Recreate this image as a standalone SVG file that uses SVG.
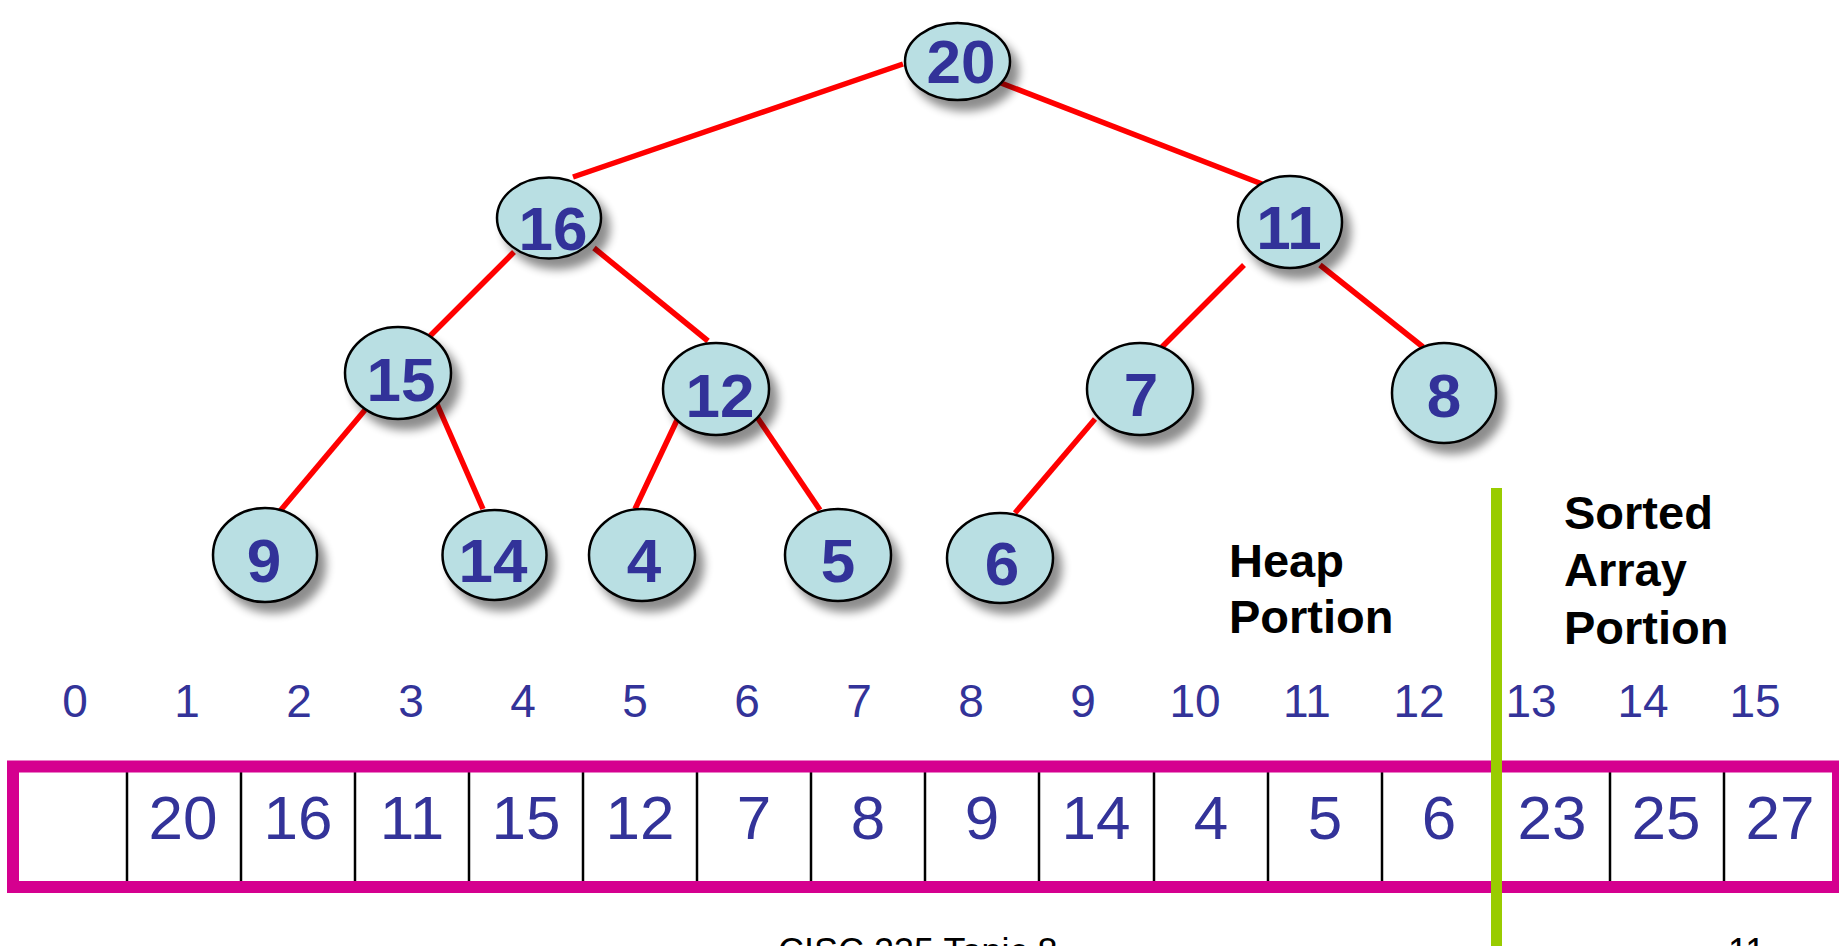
<svg xmlns="http://www.w3.org/2000/svg" width="1839" height="946" viewBox="0 0 1839 946">
  <defs>
    <filter id="shadow" x="-30%" y="-30%" width="170%" height="180%">
      <feGaussianBlur in="SourceAlpha" stdDeviation="5" result="blur"/>
      <feOffset in="blur" dx="8" dy="10" result="off"/>
      <feComponentTransfer in="off" result="soft">
        <feFuncA type="linear" slope="0.45"/>
      </feComponentTransfer>
      <feMerge>
        <feMergeNode in="soft"/>
        <feMergeNode in="SourceGraphic"/>
      </feMerge>
    </filter>
  </defs>
  <style>
    .node ellipse { fill: #B9DFE3; stroke: #000000; stroke-width: 2.5; }
    .node text { font-family: "Liberation Sans", Arial, sans-serif; font-weight: bold; font-size: 62px; fill: #333399; text-anchor: middle; }
    .edge { stroke: #FF0000; stroke-width: 5.5; stroke-linecap: butt; fill: none; }
    .idx { font-family: "Liberation Sans", Arial, sans-serif; font-size: 46px; fill: #333399; text-anchor: middle; }
    .val { font-family: "Liberation Sans", Arial, sans-serif; font-size: 62px; fill: #333399; text-anchor: middle; }
    .cap { font-family: "Liberation Sans", Arial, sans-serif; font-weight: bold; font-size: 47px; fill: #000000; }
    .foot { font-family: "Liberation Sans", Arial, sans-serif; font-size: 36px; fill: #000000; }
    .div { stroke: #000000; stroke-width: 2.5; }
  </style>

  <rect width="1839" height="946" fill="#FFFFFF"/>

  <!-- tree edges -->
  <g id="connectors">
    <line class="edge" x1="903" y1="64" x2="573" y2="177"/>
    <line class="edge" x1="1001" y1="83" x2="1262" y2="184"/>
    <line class="edge" x1="514" y1="252" x2="430" y2="336"/>
    <line class="edge" x1="594" y1="248" x2="708" y2="341"/>
    <line class="edge" x1="1244" y1="265" x2="1162" y2="347"/>
    <line class="edge" x1="1320" y1="265" x2="1423" y2="347"/>
    <line class="edge" x1="365" y1="410" x2="280" y2="511"/>
    <line class="edge" x1="437" y1="404" x2="483" y2="509"/>
    <line class="edge" x1="678" y1="418" x2="635" y2="509"/>
    <line class="edge" x1="757" y1="417" x2="820" y2="510"/>
    <line class="edge" x1="1095" y1="419" x2="1015" y2="513"/>
  </g>

  <!-- heap nodes -->
  <g id="n20" class="node" filter="url(#shadow)"><ellipse cx="957.5" cy="61.5" rx="52.5" ry="38.5"/><text x="961" y="83">20</text></g>
  <g id="n16" class="node" filter="url(#shadow)"><ellipse cx="549" cy="218" rx="52" ry="40.5"/><text x="553" y="250">16</text></g>
  <g id="n11" class="node" filter="url(#shadow)"><ellipse cx="1290" cy="222" rx="52" ry="46"/><text x="1289" y="249">11</text></g>
  <g id="n15" class="node" filter="url(#shadow)"><ellipse cx="398" cy="373" rx="53" ry="46"/><text x="401" y="401">15</text></g>
  <g id="n12" class="node" filter="url(#shadow)"><ellipse cx="716" cy="389" rx="53" ry="46"/><text x="720" y="417">12</text></g>
  <g id="n7" class="node" filter="url(#shadow)"><ellipse cx="1140" cy="389" rx="53" ry="46"/><text x="1141" y="416">7</text></g>
  <g id="n8" class="node" filter="url(#shadow)"><ellipse cx="1444" cy="393" rx="52" ry="50"/><text x="1444" y="417">8</text></g>
  <g id="n9" class="node" filter="url(#shadow)"><ellipse cx="265" cy="555" rx="52" ry="47"/><text x="264" y="582">9</text></g>
  <g id="n14" class="node" filter="url(#shadow)"><ellipse cx="494.5" cy="555" rx="52" ry="45"/><text x="493" y="582">14</text></g>
  <g id="n4" class="node" filter="url(#shadow)"><ellipse cx="642" cy="555" rx="53" ry="46"/><text x="644" y="582">4</text></g>
  <g id="n5" class="node" filter="url(#shadow)"><ellipse cx="838" cy="555" rx="53" ry="46"/><text x="838" y="582">5</text></g>
  <g id="n6" class="node" filter="url(#shadow)"><ellipse cx="1000" cy="558" rx="53" ry="45"/><text x="1002" y="585">6</text></g>

  <!-- portion captions -->
  <g id="heap-caption">
    <text class="cap" x="1229" y="577">Heap</text>
    <text class="cap" x="1229" y="633">Portion</text>
  </g>
  <g id="sorted-caption">
    <text class="cap" x="1564" y="529">Sorted</text>
    <text class="cap" x="1564" y="586">Array</text>
    <text class="cap" x="1564" y="644">Portion</text>
  </g>

  <!-- array indices -->
  <g id="indices">
    <text class="idx" x="75" y="717">0</text>
    <text class="idx" x="187" y="717">1</text>
    <text class="idx" x="299" y="717">2</text>
    <text class="idx" x="411" y="717">3</text>
    <text class="idx" x="523" y="717">4</text>
    <text class="idx" x="635" y="717">5</text>
    <text class="idx" x="747" y="717">6</text>
    <text class="idx" x="859" y="717">7</text>
    <text class="idx" x="971" y="717">8</text>
    <text class="idx" x="1083" y="717">9</text>
    <text class="idx" x="1195" y="717">10</text>
    <text class="idx" x="1307" y="717">11</text>
    <text class="idx" x="1419" y="717">12</text>
    <text class="idx" x="1531" y="717">13</text>
    <text class="idx" x="1643" y="717">14</text>
    <text class="idx" x="1755" y="717">15</text>
  </g>

  <!-- array cells -->
  <g id="array">
    <g id="dividers">
      <line class="div" x1="127" y1="762" x2="127" y2="892"/>
      <line class="div" x1="241" y1="762" x2="241" y2="892"/>
      <line class="div" x1="355" y1="762" x2="355" y2="892"/>
      <line class="div" x1="469" y1="762" x2="469" y2="892"/>
      <line class="div" x1="583" y1="762" x2="583" y2="892"/>
      <line class="div" x1="697" y1="762" x2="697" y2="892"/>
      <line class="div" x1="811" y1="762" x2="811" y2="892"/>
      <line class="div" x1="925" y1="762" x2="925" y2="892"/>
      <line class="div" x1="1039" y1="762" x2="1039" y2="892"/>
      <line class="div" x1="1154" y1="762" x2="1154" y2="892"/>
      <line class="div" x1="1268" y1="762" x2="1268" y2="892"/>
      <line class="div" x1="1382" y1="762" x2="1382" y2="892"/>
      <line class="div" x1="1496" y1="762" x2="1496" y2="892"/>
      <line class="div" x1="1610" y1="762" x2="1610" y2="892"/>
      <line class="div" x1="1724" y1="762" x2="1724" y2="892"/>
    </g>
    <rect x="13" y="766.5" width="1825" height="120.5" fill="none" stroke="#D5008F" stroke-width="12"/>
    <g id="values">
      <text class="val" x="183" y="839">20</text>
      <text class="val" x="298" y="839">16</text>
      <text class="val" x="412" y="839">11</text>
      <text class="val" x="526" y="839">15</text>
      <text class="val" x="640" y="839">12</text>
      <text class="val" x="754" y="839">7</text>
      <text class="val" x="868" y="839">8</text>
      <text class="val" x="982" y="839">9</text>
      <text class="val" x="1096" y="839">14</text>
      <text class="val" x="1211" y="839">4</text>
      <text class="val" x="1325" y="839">5</text>
      <text class="val" x="1439" y="839">6</text>
      <text class="val" x="1552" y="839">23</text>
      <text class="val" x="1666" y="839">25</text>
      <text class="val" x="1780" y="839">27</text>
    </g>
  </g>

  <!-- boundary between heap and sorted part -->
  <line id="boundary" x1="1496.5" y1="488" x2="1496.5" y2="946" stroke="#99CC00" stroke-width="11"/>

  <!-- footer -->
  <g id="footer">
    <text class="foot" x="778" y="964">CISC 235 Topic 8</text>
    <text class="foot" x="1728" y="964">11</text>
  </g>
</svg>
